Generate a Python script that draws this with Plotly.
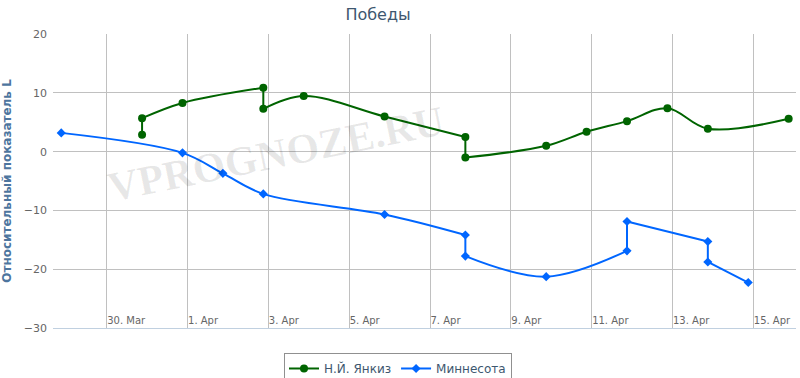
import plotly.graph_objects as go

title = "Победы"
y_title = "Относительный показатель L"

nyy_name = "Н.Й. Янкиз"
nyy_dates = ["2014-03-30 21:00", "2014-03-30 21:00", "2014-03-31 21:00",
             "2014-04-02 21:00", "2014-04-02 21:00", "2014-04-03 21:00",
             "2014-04-05 21:00", "2014-04-07 21:00", "2014-04-07 21:00",
             "2014-04-09 21:00", "2014-04-10 21:00", "2014-04-11 21:00",
             "2014-04-12 21:00", "2014-04-13 21:00", "2014-04-15 21:00"]
nyy_values = [2.9, 5.7, 8.3, 10.9, 7.3, 9.5, 6.0, 2.5, -1.0, 1.0, 3.4, 5.2, 7.4, 3.9, 5.6]

min_name = "Миннесота"
min_dates = ["2014-03-28 21:00", "2014-03-31 21:00", "2014-04-01 21:00",
             "2014-04-02 21:00", "2014-04-05 21:00", "2014-04-07 21:00",
             "2014-04-07 21:00", "2014-04-09 21:00", "2014-04-11 21:00",
             "2014-04-11 21:00", "2014-04-13 21:00", "2014-04-13 21:00",
             "2014-04-14 21:00"]
min_values = [3.2, -0.2, -3.7, -7.2, -10.7, -14.2, -17.8, -21.3, -16.9, -11.9, -15.3, -18.8, -22.3]

x_range = ["2014-03-28 16:06", "2014-04-16 01:22"]
y_range = [-30.05, 20.05]

grid = "#C0C0C0"
fig = go.Figure()


def add_series(xs, ys, name, color, symbol, msize):
    # split into runs where consecutive points share the same x (vertical jumps)
    segs = []
    cur = [0]
    for i in range(1, len(xs)):
        if xs[i] == xs[i - 1]:
            segs.append(cur)
            cur = [i]
        else:
            cur.append(i)
    segs.append(cur)
    # vertical connectors
    for a, b in zip(segs[:-1], segs[1:]):
        i, j = a[-1], b[0]
        fig.add_trace(go.Scatter(
            x=[xs[i], xs[j]], y=[ys[i], ys[j]], mode="lines",
            line=dict(color=color, width=2), legendgroup=name, showlegend=False,
            hoverinfo="skip"))
    for k, s in enumerate(segs):
        fig.add_trace(go.Scatter(
            x=[xs[i] for i in s], y=[ys[i] for i in s], name=name,
            mode="lines+markers", legendgroup=name, showlegend=(k == 0),
            line=dict(color=color, width=2, shape="spline", smoothing=1.0),
            marker=dict(symbol=symbol, size=msize, color=color)))


add_series(nyy_dates, nyy_values, nyy_name, "#006400", "circle", 8)
add_series(min_dates, min_values, min_name, "#0066FF", "diamond", 7)

fig.add_annotation(
    text="<b>VPROGNOZE.RU</b>", xref="paper", yref="paper", x=0.30, y=0.592,
    xanchor="center", yanchor="middle", showarrow=False, textangle=-11.5,
    font=dict(family="Liberation Serif", size=42, color="rgba(0,0,0,0.09)"),
)

fig.update_layout(
    width=800, height=378,
    margin=dict(l=53, r=4, t=34, b=50, autoexpand=False),
    paper_bgcolor="white", plot_bgcolor="white",
    font=dict(family="DejaVu Sans", size=11, color="#666666"),
    title=dict(text=title, x=378 / 800, xanchor="center", xref="container",
               y=1 - 14 / 378, yanchor="middle",
               font=dict(size=16, color="#3E576F")),
    showlegend=True,
    legend=dict(orientation="h", x=(398 - 53) / 743, xanchor="center",
                y=-0.085, yanchor="top",
                bordercolor="#909090", borderwidth=1,
                font=dict(size=12, color="#3E576F"), itemwidth=30,
                tracegroupgap=0),
    hovermode=False,
)
fig.update_xaxes(
    type="date", range=x_range, tick0="2014-03-30", dtick=2 * 86400000,
    tickformat="%-d. %b", ticklabelposition="outside right", ticklabelstandoff=-17,
    automargin=False,
    showgrid=True, gridcolor=grid, gridwidth=1,
    showline=True, linecolor="#C0D0E0", linewidth=1,
    ticks="", zeroline=False, tickfont=dict(size=10, color="#666666"),
)
fig.update_yaxes(
    range=y_range, dtick=10, showgrid=True, gridcolor=grid, gridwidth=1,
    zeroline=False, showline=False, ticks="", automargin=True,
    ticklabelstandoff=5,
    title=dict(text="<b>" + y_title + "</b>", font=dict(size=12, color="#4D759E"),
               standoff=12),
    tickfont=dict(size=11, color="#666666"),
)

fig.write_html("out.html", config={"displayModeBar": False},
               post_script="document.body.style.margin='0';")
